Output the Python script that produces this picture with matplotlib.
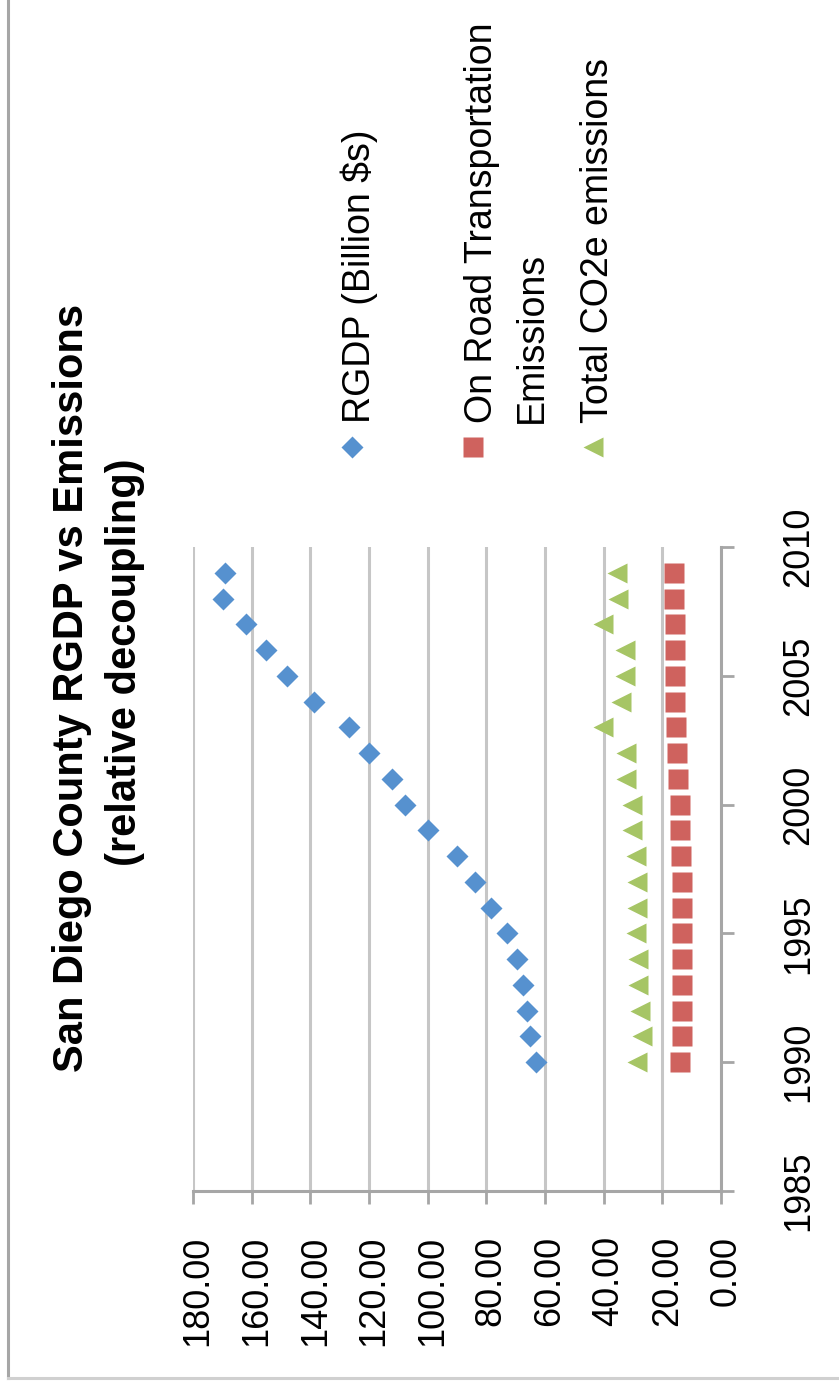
"""San Diego County RGDP against emissions, drawn as a sideways Excel-style scatter."""

import matplotlib
matplotlib.use("Agg")
import matplotlib.pyplot as plt
from matplotlib.lines import Line2D
from matplotlib.transforms import ScaledTranslation

years = list(range(1990, 2010))
rgdp_billion = [63.1, 65.1, 66.1, 67.5, 69.6, 73.0, 78.4, 83.9, 90.1, 99.8,
                107.7, 112.3, 120.0, 126.8, 138.7, 147.9, 155.2, 162.1, 169.7, 169.1]
on_road = [14.1, 13.2, 13.2, 13.2, 13.2, 13.2, 13.2, 13.2, 13.5, 14.0,
           14.0, 14.8, 14.9, 15.3, 15.7, 15.7, 15.6, 15.8, 15.9, 16.0]
total_co2e = [28.5, 27.0, 27.6, 28.4, 28.2, 29.0, 28.7, 28.7, 29.1, 30.2,
              30.2, 32.5, 32.5, 40.1, 34.1, 32.7, 32.7, 40.1, 35.0, 35.6]

value_ticks = [0, 20, 40, 60, 80, 100, 120, 140, 160, 180]
year_ticks = [1985, 1990, 1995, 2000, 2005, 2010]
title_lines = ["San Diego County RGDP vs Emissions", "(relative decoupling)"]
legend_lines = [["RGDP (Billion $s)"], ["On Road Transportation", "Emissions"], ["Total CO2e emissions"]]

W, H = 839, 1386
BLUE, RED, GREEN = "#5691cf", "#cf625e", "#a6c565"
AXIS_GREY, GRID_GREY = "#a6a6a6", "#c6c6c6"
FONT = "Liberation Sans"


def fx(x):
    return x / W


def fy(y):
    return 1 - y / H


fig = plt.figure(figsize=(W / 100, H / 100), dpi=100)
fig.patch.set_facecolor("white")

# plot area: value axis runs right-to-left, years bottom-to-top
ax = fig.add_axes([fx(193), fy(1191), fx(721) - fx(193), fy(547) - fy(1191)])
ax.set_xlim(180, 0)
ax.set_ylim(1985, 2010)
ax.set_axisbelow(True)
ax.grid(axis="x", color=GRID_GREY, lw=2.2)
ax.grid(axis="y", visible=False)
for side in ("top", "left"):
    ax.spines[side].set_visible(False)
for side in ("bottom", "right"):
    ax.spines[side].set_color(AXIS_GREY)
    ax.spines[side].set_linewidth(2.2)

ax.set_xticks(value_ticks, [f"{v:.2f}" for v in value_ticks],
              rotation=90, fontsize=26, family=FONT)
ax.yaxis.tick_right()
ax.set_yticks(year_ticks, [str(y) for y in year_ticks],
              rotation=90, fontsize=26, family=FONT, va="center")
ax.tick_params(axis="both", direction="out", length=9.4, width=2,
               color=AXIS_GREY, labelcolor="black")
ax.tick_params(axis="x", pad=23)
ax.tick_params(axis="y", pad=34)
shift = ScaledTranslation(5 / 100, 0, fig.dpi_scale_trans)
for lab in ax.get_xticklabels():
    lab.set_transform(lab.get_transform() + shift)

ax.plot(rgdp_billion, years, "D", ms=11, color=BLUE, mec="none")
ax.plot(on_road, years, "s", ms=14.4, color=RED, mec="none")
ax.plot(total_co2e, years, "<", ms=14.5, color=GREEN, mec="none")

# title, two rotated lines
fig.text(fx(72), fy(688), title_lines[0], rotation=90, ha="center", va="center",
         fontsize=30, fontweight="bold", family=FONT)
fig.text(fx(125), fy(662), title_lines[1], rotation=90, ha="center", va="center",
         fontsize=30, fontweight="bold", family=FONT)

# legend drawn by hand so that it reads sideways like the rest
entries = [("D", 11, BLUE, 352, [370]),
           ("s", 14.4, RED, 473, [492, 542]),
           ("<", 14.5, GREEN, 593, [608])]
for (marker, ms, color, mx, baselines), lines in zip(entries, legend_lines):
    fig.add_artist(Line2D([fx(mx)], [fy(447)], marker=marker, ms=ms, color=color,
                          mec="none", transform=fig.transFigure))
    for bx, text in zip(baselines, lines):
        fig.text(fx(bx), fy(423), text, rotation=90, rotation_mode="anchor",
                 ha="left", va="baseline", fontsize=27, family=FONT)

# chart frame (left and bottom edges are all that show)
fig.add_artist(Line2D([fx(8), fx(8)], [fy(0), fy(1378)], color=AXIS_GREY, lw=2.2,
                      transform=fig.transFigure))
fig.add_artist(Line2D([fx(8), fx(839)], [fy(1378), fy(1378)], color="#d0d0d0", lw=2.2,
                      transform=fig.transFigure))

fig.savefig("out.png", dpi=100, facecolor="white")
